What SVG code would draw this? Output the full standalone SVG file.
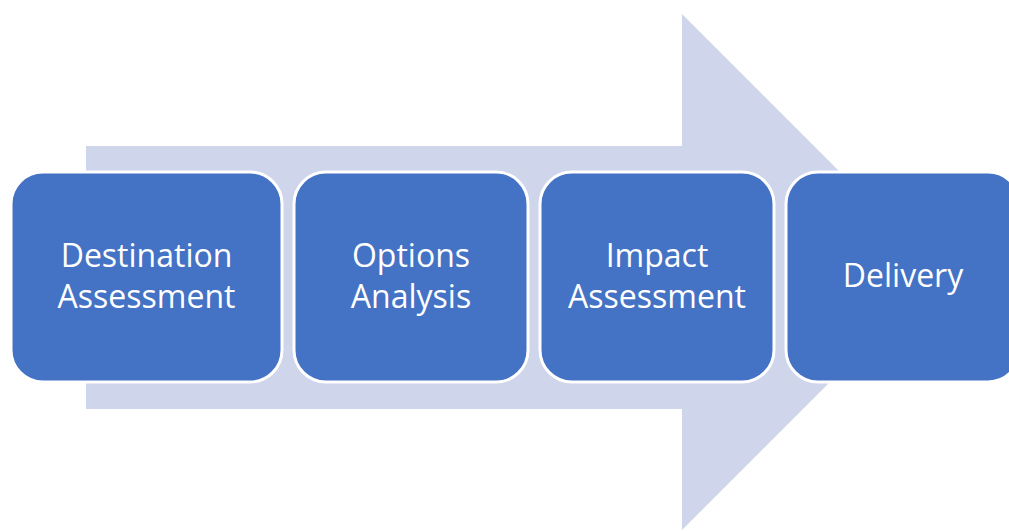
<svg xmlns="http://www.w3.org/2000/svg" width="1009" height="531" viewBox="0 0 1009 531">
<style>
.box{fill:#4472C4;stroke:#FFFFFF;stroke-width:3}
.t{font-family:"Open Sans","Liberation Sans",sans-serif;font-size:32px;fill:#FFFFFF;text-anchor:middle}
</style>
<rect width="1009" height="531" fill="#FFFFFF"/>
<g id="arrow">
<polygon points="86,146 682,146 682,14 940,272 682,530 682,409 86,409" fill="#CFD5EA"/>
</g>
<g id="connectors"></g>
<g id="node1">
<rect class="box" x="11" y="172" width="271" height="210" rx="32"/>
<text class="t" x="146.5" y="267">Destination</text>
<text class="t" x="146.5" y="308">Assessment</text>
</g>
<g id="node2">
<rect class="box" x="294" y="172" width="234" height="210" rx="32"/>
<text class="t" x="411" y="267">Options</text>
<text class="t" x="411" y="308">Analysis</text>
</g>
<g id="node3">
<rect class="box" x="540" y="172" width="234" height="210" rx="32"/>
<text class="t" x="657" y="267">Impact</text>
<text class="t" x="657" y="308">Assessment</text>
</g>
<g id="node4">
<rect class="box" x="786" y="172" width="234" height="210" rx="32"/>
<text class="t" x="903" y="287">Delivery</text>
</g>
</svg>
